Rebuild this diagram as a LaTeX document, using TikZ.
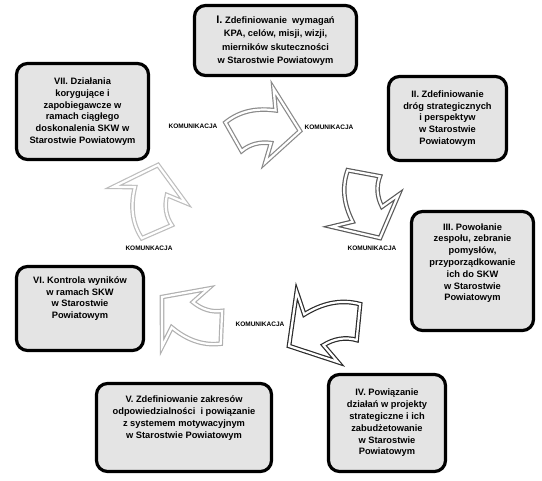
\documentclass[tikz,border=0pt]{standalone}
\usepackage{fontspec}
\setmainfont{Liberation Sans}
\usetikzlibrary{positioning,calc}
\definecolor{StageFill}{HTML}{E4E4E4}
\definecolor{ArrowA}{HTML}{8A8A8A}
\definecolor{ArrowB}{HTML}{5A5A5A}
\definecolor{ArrowC}{HTML}{2B2B2B}
\definecolor{ArrowD}{HTML}{B0B0B0}
\definecolor{ArrowE}{HTML}{BDBDBD}
\tikzset{
  cyc/stage/.style={draw, line width=3.2pt, rounded corners=11pt, fill=StageFill, align=center, inner sep=3pt,
    font=\fontsize{9.3}{11.8}\selectfont\bfseries},
  cyc/comm/.style={font=\fontsize{6.5}{7}\selectfont\bfseries, inner sep=1pt},
  cyc/arrow/.style={draw=#1, line width=1.2pt, double=white, double distance=2.2pt, fill=white, line join=miter}
}
% curved block arrow: tip, rotation, xscale, yscale (negative = mirrored), colour
\newcommand{\cycarrow}[5]{%
  \begin{scope}[shift={#1}, rotate=#2, xscale=#3, yscale=#4]
    \draw[cyc/arrow=#5] (0,0) -- (-30,36) -- (-27,16)
      .. controls (-38,16) and (-48,20) .. (-55,28) -- (-75,2)
      .. controls (-62,-12) and (-45,-17) .. (-27,-17) -- (-32,-38) -- cycle;
  \end{scope}}

\begin{document}
\begin{tikzpicture}[x=1pt, y=-1pt]
  \useasboundingbox (0,0) rectangle (542,481);

  % stages
  \node[cyc/stage, minimum width=162pt, minimum height=70pt, font=\fontsize{9.3}{13.4}\selectfont\bfseries] (stage1) at (275.5,40.5)
    {{\fontsize{11}{13}\selectfont I.} Zdefiniowanie~ wymagań\\ KPA, celów, misji, wizji,\\ mierników skuteczności\\ w Starostwie Powiatowym};
  \node[cyc/stage, minimum width=118pt, minimum height=84pt] (stage2) at (447.5,118.5)
    {II. Zdefiniowanie\\ dróg strategicznych\\ i perspektyw\\ w Starostwie\\ Powiatowym};
  \node[cyc/stage, minimum width=122pt, minimum height=119pt] (stage3) at (472.5,271)
    {III. Powołanie\\ zespołu, zebranie\\ pomysłów,\\ przyporządkowanie\\ ich do SKW\\ w Starostwie\\ Powiatowym\\[6pt]\mbox{}};
  \node[cyc/stage, minimum width=117pt, minimum height=97pt] (stage4) at (387,423)
    {IV. Powiązanie\\ działań w projekty\\ strategiczne i ich\\ zabudżetowanie\\ w Starostwie\\ Powiatowym};
  \node[cyc/stage, minimum width=175pt, minimum height=88pt] (stage5) at (184,427.5)
    {V. Zdefiniowanie zakresów\\ odpowiedzialności~ i powiązanie\\ z systemem motywacyjnym\\ w Starostwie Powiatowym\\[9pt]\mbox{}};
  \node[cyc/stage, minimum width=127pt, minimum height=84pt] (stage6) at (80,308.5)
    {VI. Kontrola wyników\\ w ramach SKW\\ w Starostwie\\ Powiatowym\\[10pt]\mbox{}};
  \node[cyc/stage, minimum width=132pt, minimum height=96pt] (stage7) at (82.5,111.5)
    {VII. Działania\\ korygujące i\\ zapobiegawcze w\\ ramach ciągłego\\ doskonalenia SKW w\\ Starostwie Powiatowym};

  % arrows
  \cycarrow{(300,131)}{-8}{1}{1}{ArrowA}
  \cycarrow{(380,238)}{-63}{1}{-1}{ArrowB}
  \cycarrow{(289,346)}{-148}{1.1}{-1.1}{ArrowC}
  \cycarrow{(162,297)}{-220}{1}{1}{ArrowD}
  \cycarrow{(158,165)}{-284}{1}{1}{ArrowE}

  % labels
  \node[cyc/comm] (comm1) at (193,126) {KOMUNIKACJA};
  \node[cyc/comm] (comm2) at (329,127) {KOMUNIKACJA};
  \node[cyc/comm] (comm3) at (372,248) {KOMUNIKACJA};
  \node[cyc/comm] (comm4) at (260,324) {KOMUNIKACJA};
  \node[cyc/comm] (comm5) at (149,248) {KOMUNKACJA};
\end{tikzpicture}
\end{document}
